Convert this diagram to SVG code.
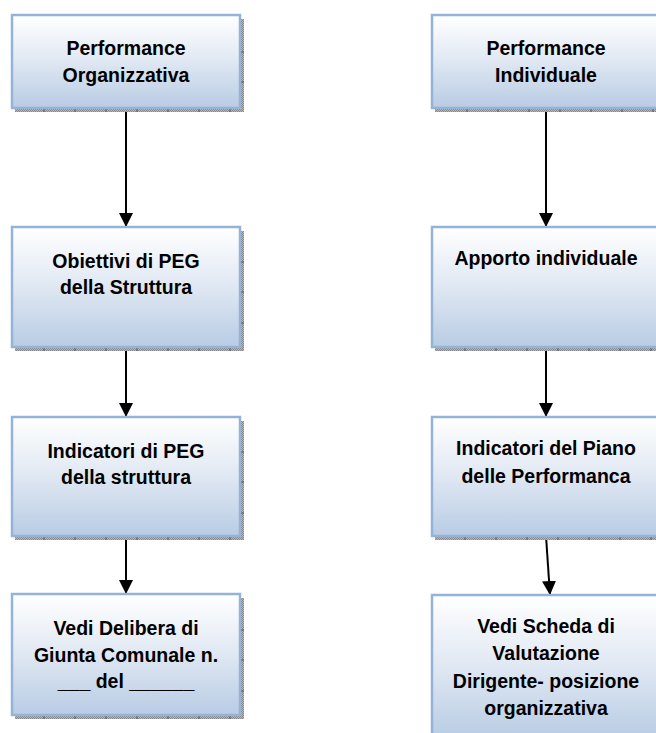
<svg xmlns="http://www.w3.org/2000/svg" width="656" height="733" viewBox="0 0 656 733">
<defs>
<linearGradient id="g" x1="0" y1="0" x2="0" y2="1">
<stop offset="0" stop-color="#ffffff"/>
<stop offset="0.45" stop-color="#e3eaf4"/>
<stop offset="1" stop-color="#b8cce4"/>
</linearGradient>
<pattern id="hatch" width="2" height="2" patternUnits="userSpaceOnUse">
<rect width="2" height="2" fill="#b4b4b4"/>
<rect width="1" height="1" fill="#8a8a8a"/>
<rect x="1" y="1" width="1" height="1" fill="#8a8a8a"/>
</pattern>
<marker id="arr" viewBox="0 0 14 14" refX="14" refY="7" markerWidth="14" markerHeight="14" markerUnits="userSpaceOnUse" orient="auto">
<path d="M0,0 L14,7 L0,14 Z" fill="#000"/>
</marker>
</defs>
<style>
.shadow{fill:url(#hatch)}
.tick{stroke:#555;stroke-width:1}
.box{fill:url(#g);stroke:#95b3d7;stroke-width:2.5}
.t{font-family:"Liberation Sans",Arial,sans-serif;font-weight:bold;font-size:19.5px;fill:#000;text-anchor:middle}
.c{stroke:#000;stroke-width:2;fill:none;marker-end:url(#arr)}
</style>

<g id="connectors">
<line class="c" x1="126" y1="108" x2="126" y2="227"/>
<line class="c" x1="126" y1="347" x2="126" y2="417"/>
<line class="c" x1="126" y1="536" x2="126" y2="594"/>
<line class="c" x1="546" y1="108" x2="546" y2="227"/>
<line class="c" x1="546" y1="347" x2="546" y2="417"/>
<line class="c" x1="546" y1="536" x2="550" y2="595"/>
</g>

<g id="n1">
<rect class="shadow" x="15" y="108" width="229" height="4"/>
<rect class="shadow" x="240" y="19" width="4" height="93"/>
<path class="tick" d="M44,108V112M75,108V112M106,108V112M137,108V112M168,108V112M199,108V112M230,108V112M240,52H244M240,82H244"/>
<rect class="box" x="12" y="15" width="228" height="93"/>
<text class="t" x="126" y="55">Performance</text>
<text class="t" x="126" y="82">Organizzativa</text>
</g>

<g id="n2">
<rect class="shadow" x="15" y="347" width="229" height="4"/>
<rect class="shadow" x="240" y="231" width="4" height="120"/>
<path class="tick" d="M44,347V351M75,347V351M106,347V351M137,347V351M168,347V351M199,347V351M230,347V351M240,262H244M240,292H244M240,323H244"/>
<rect class="box" x="12" y="227" width="228" height="120"/>
<text class="t" x="126" y="268">Obiettivi di PEG</text>
<text class="t" x="126" y="294">della Struttura</text>
</g>

<g id="n3">
<rect class="shadow" x="15" y="536" width="229" height="4"/>
<rect class="shadow" x="240" y="421" width="4" height="119"/>
<path class="tick" d="M44,536V540M75,536V540M106,536V540M137,536V540M168,536V540M199,536V540M230,536V540M240,452H244M240,482H244M240,513H244"/>
<rect class="box" x="12" y="417" width="228" height="119"/>
<text class="t" x="126" y="458">Indicatori di PEG</text>
<text class="t" x="126" y="484">della struttura</text>
</g>

<g id="n4">
<rect class="shadow" x="15" y="715" width="229" height="4"/>
<rect class="shadow" x="240" y="598" width="4" height="121"/>
<path class="tick" d="M44,715V719M75,715V719M106,715V719M137,715V719M168,715V719M199,715V719M230,715V719M240,630H244M240,660H244M240,691H244"/>
<rect class="box" x="12" y="594" width="228" height="121"/>
<text class="t" x="126" y="635">Vedi Delibera di</text>
<text class="t" x="126" y="662">Giunta Comunale n.</text>
<text class="t" x="126" y="688">___ del  ______</text>
</g>

<g id="n5">
<rect class="shadow" x="435" y="108" width="229" height="4"/>
<path class="tick" d="M467,108V112M498,108V112M529,108V112M560,108V112M591,108V112M622,108V112M653,108V112"/>
<rect class="box" x="432" y="15" width="228" height="93"/>
<text class="t" x="546" y="55">Performance</text>
<text class="t" x="546" y="82">Individuale</text>
</g>

<g id="n6">
<rect class="shadow" x="435" y="347" width="229" height="4"/>
<path class="tick" d="M465,347V351M496,347V351M527,347V351M558,347V351M589,347V351M620,347V351M651,347V351"/>
<rect class="box" x="432" y="227" width="228" height="120"/>
<text class="t" x="546" y="265">Apporto individuale</text>
</g>

<g id="n7">
<rect class="shadow" x="435" y="536" width="229" height="4"/>
<path class="tick" d="M465,536V540M496,536V540M527,536V540M558,536V540M589,536V540M620,536V540M651,536V540"/>
<rect class="box" x="432" y="417" width="228" height="119"/>
<text class="t" x="546" y="455">Indicatori del Piano</text>
<text class="t" x="546" y="483">delle Performanca</text>
</g>

<g id="n8">
<rect class="box" x="432" y="595" width="228" height="145"/>
<text class="t" x="546" y="633">Vedi Scheda di</text>
<text class="t" x="546" y="660">Valutazione</text>
<text class="t" x="546" y="688">Dirigente- posizione</text>
<text class="t" x="546" y="715">organizzativa</text>
</g>
</svg>
